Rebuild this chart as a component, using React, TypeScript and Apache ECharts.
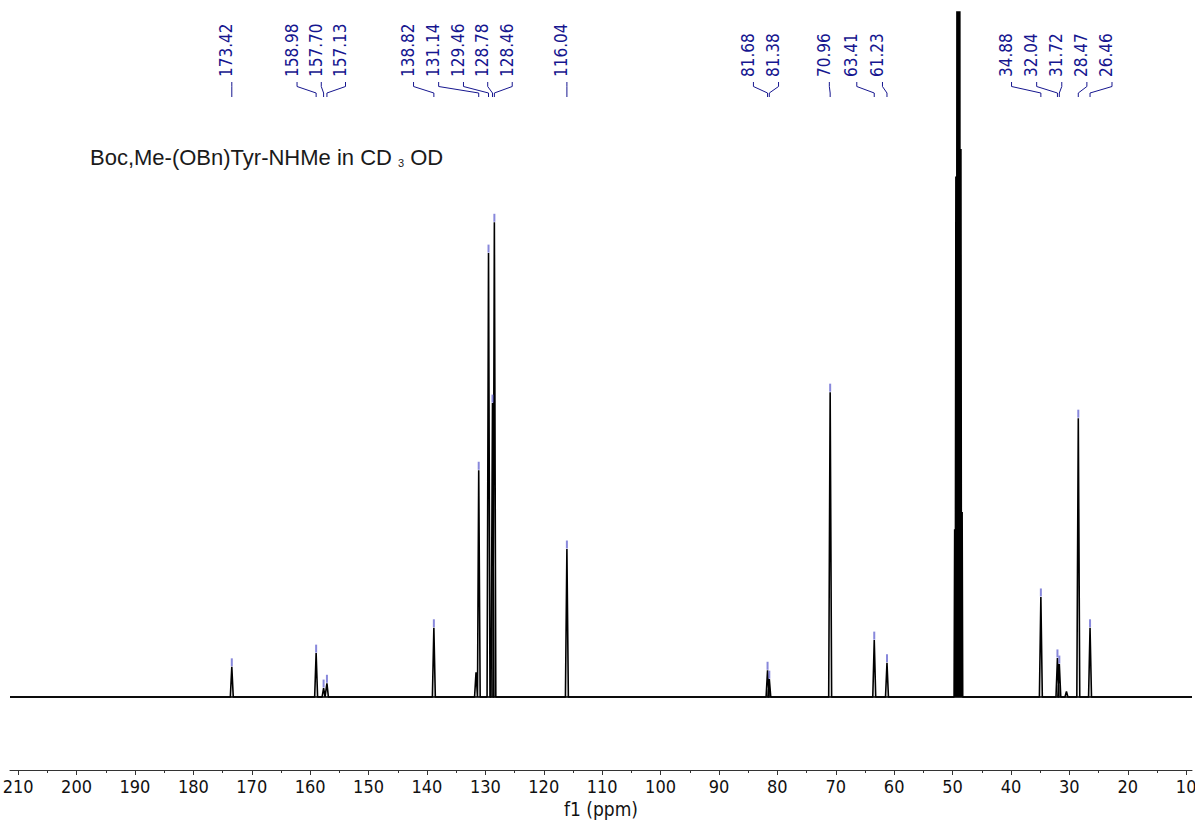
import React, { useEffect, useRef } from "react";
import * as echarts from "echarts";

const W = 1195;
const H = 822;

// ppm range shown on the f1 axis (axis is reversed: high ppm on the left)
const AXIS_MIN = 9;
const AXIS_MAX = 211.4;

// Picked 13C signals: chemical shift (ppm) and intensity (% of plot height)
const peakShifts = [
  173.42, 158.98, 157.7, 157.13, 138.82, 131.14, 129.46, 128.78, 128.46, 116.04,
  81.68, 81.38, 70.96, 63.41, 61.23, 34.88, 32.04, 31.72, 28.47, 26.46,
];
const peakHeights = [
  4.4, 6.4, 1.3, 2.0, 10.1, 33.1, 64.8, 42.9, 69.3, 21.6,
  3.9, 2.6, 44.5, 8.3, 5.0, 14.6, 5.7, 4.8, 40.7, 10.1,
];
// Axis position (ppm) where each shift label is placed, spread apart in crowded groups
const labelSlots = [
  173.42, 162.25, 158.1, 153.95, 142.3, 138.0, 133.75, 129.6, 125.4, 116.04,
  84.1, 79.8, 71.1, 66.4, 62.0, 39.9, 35.6, 31.3, 27.0, 22.7,
];

// Small unpicked signals
const minorShifts = [131.6, 30.5];
const minorHeights = [3.6, 0.8];

// CD3OD solvent septet
const solventShifts = [49.64, 49.43, 49.21, 49.0, 48.79, 48.57, 48.36];
const solventHeights = [24.5, 76, 150, 175, 150, 80, 27];

// Axis ticks
const majorTicks = [210, 200, 190, 180, 170, 160, 150, 140, 130, 120, 110, 100, 90, 80, 70, 60, 50, 40, 30, 20, 10];
const minorTicks = [205, 195, 185, 175, 165, 155, 145, 135, 125, 115, 105, 95, 85, 75, 65, 55, 45, 35, 25, 15];

const LABEL_COLOR = "#16168f";
const MARK_COLOR = "#6a6ad2";
const CONDENSED = "'DejaVu Sans Condensed', 'DejaVu Sans', sans-serif";
const TITLE_FONT = "'Liberation Sans', Arial, sans-serif";

type Line = { shift: number; height: number; half: number };

function buildSpectrum(): number[][] {
  const lines: Line[] = [];
  peakShifts.forEach((s, i) => lines.push({ shift: s, height: peakHeights[i], half: 0.25 }));
  minorShifts.forEach((s, i) => lines.push({ shift: s, height: minorHeights[i], half: 0.25 }));
  solventShifts.forEach((s, i) => lines.push({ shift: s, height: solventHeights[i], half: 0.1 }));
  lines.sort((a, b) => b.shift - a.shift);
  const pts: number[][] = [[AXIS_MAX, 0]];
  lines.forEach((l) => {
    pts.push([l.shift + l.half, 0], [l.shift, l.height], [l.shift - l.half, 0]);
  });
  pts.push([AXIS_MIN, 0]);
  return pts;
}

export default function App() {
  const ref = useRef<HTMLDivElement>(null);

  useEffect(() => {
    if (!ref.current) return;
    const chart = echarts.init(ref.current, null, { renderer: "svg" });

    const axisCommon = {
      type: "value" as const,
      min: AXIS_MIN,
      max: AXIS_MAX,
      inverse: true,
      position: "bottom" as const,
      offset: 0,
      splitLine: { show: false },
    };

    chart.setOption({
      animation: false,
      backgroundColor: "#ffffff",
      grid: {
        left: 10,
        right: 3,
        top: 12,
        bottom: 52,
        containLabel: false,
        outerBoundsMode: "none",
      },
      xAxis: [
        {
          ...axisCommon,
          axisLine: { show: true, onZero: false, lineStyle: { color: "#333", width: 1 } },
          axisTick: { show: true, customValues: majorTicks, length: 5, lineStyle: { color: "#333" } },
          axisLabel: {
            show: true,
            customValues: majorTicks,
            fontFamily: CONDENSED,
            fontSize: 18,
            color: "#111",
            margin: 7,
          },
          name: "f1 (ppm)",
          nameLocation: "middle",
          nameGap: 26,
          nameTextStyle: { fontFamily: CONDENSED, fontSize: 19, color: "#111" },
        },
        {
          ...axisCommon,
          axisLine: { show: false, onZero: false },
          axisLabel: { show: false },
          axisTick: { show: true, customValues: minorTicks, length: 3, lineStyle: { color: "#333" } },
        },
      ],
      yAxis: { type: "value", min: -10.66, max: 100, show: false },
      series: [
        {
          type: "line",
          data: [[AXIS_MAX, 0], [AXIS_MIN, 0]],
          symbol: "none",
          lineStyle: { color: "#333", width: 1.9 },
          silent: true,
        },
        {
          type: "line",
          data: buildSpectrum(),
          symbol: "none",
          clip: true,
          lineStyle: { color: "#000", width: 1.6 },
          silent: true,
        },
        {
          type: "scatter",
          data: peakShifts.map((s, i) => [s, peakHeights[i]]),
          symbol: "rect",
          symbolSize: [2, 8],
          symbolOffset: [0, -4.5],
          itemStyle: { color: MARK_COLOR },
          z: 5,
          silent: true,
        },
      ],
    });

    const px = (v: number) => chart.convertToPixel({ xAxisIndex: 0 }, v) as number;

    const graphics: any[] = [];
    peakShifts.forEach((s, i) => {
      const sx = px(labelSlots[i]);
      const pk = px(s);
      graphics.push({
        type: "text",
        x: sx + 3,
        y: 77,
        rotation: Math.PI / 2,
        style: {
          text: s.toFixed(2),
          fontFamily: CONDENSED,
          fontSize: 17,
          fill: LABEL_COLOR,
          align: "left",
          verticalAlign: "bottom",
        },
      });
      graphics.push({
        type: "polyline",
        shape: { points: [[sx, 82], [sx, 86.5], [pk, 93], [pk, 97]] },
        style: { stroke: LABEL_COLOR, lineWidth: 1, fill: null },
      });
    });

    graphics.push({
      type: "text",
      x: 90,
      y: 146,
      style: {
        text: "{a|Boc,Me-(OBn)Tyr-NHMe in CD }{s|3}{a| OD}",
        rich: {
          a: { fontFamily: TITLE_FONT, fontSize: 22, fill: "#1a1a1a" },
          s: { fontFamily: TITLE_FONT, fontSize: 11, fill: "#1a1a1a", verticalAlign: "bottom" },
        },
      },
    });

    chart.setOption({ graphic: graphics });

    return () => chart.dispose();
  }, []);

  return (
    <div
      ref={ref}
      style={{ position: "fixed", left: 0, top: 0, width: W, height: H, background: "#fff" }}
    />
  );
}
